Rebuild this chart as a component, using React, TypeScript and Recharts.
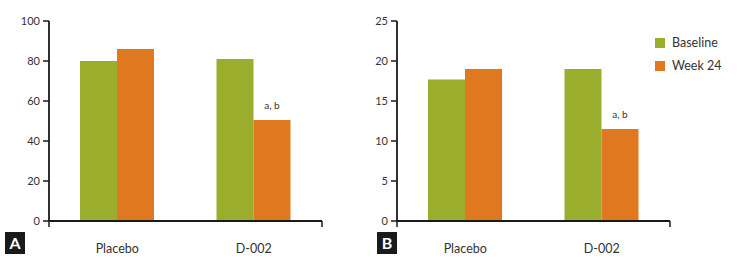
import React from 'react';
import { BarChart, Bar, XAxis, YAxis, LabelList } from 'recharts';

const categories = ['Placebo', 'D-002'];
const baselineA = [80, 81];
const week24A = [86, 50.5];
const baselineB = [17.7, 19.0];
const week24B = [19.0, 11.5];
const notes = ['', 'a, b'];
const yTicksA = [0, 20, 40, 60, 80, 100];
const yTicksB = [0, 5, 10, 15, 20, 25];
const seriesNames = ['Baseline', 'Week 24'];

const GREEN = '#9aad2c';
const ORANGE = '#e0781f';
const FONT = 'Lato, "Open Sans", sans-serif';

const dataA = categories.map((c, i) => ({ name: c, baseline: baselineA[i], week24: week24A[i], note: notes[i] }));
const dataB = categories.map((c, i) => ({ name: c, baseline: baselineB[i], week24: week24B[i], note: notes[i] }));

const tickStyle = { fontSize: 11, fill: '#333', fontFamily: FONT } as any;

const NoteLabel = (props: any) => {
  const { x, y, width, value } = props;
  if (!value) return null;
  return (
    <text x={x + width / 2} y={y - 11} textAnchor="middle" fontSize={10} fill="#333" fontFamily={FONT}>
      {value}
    </text>
  );
};

const LegendContent = () => (
  <div style={{ fontFamily: FONT, fontSize: 12.5, color: '#333' }}>
    {seriesNames.map((n, i) => (
      <div key={n} style={{ display: 'flex', alignItems: 'center', height: 23 }}>
        <div style={{ width: 10, height: 10, background: i === 0 ? GREEN : ORANGE, marginRight: 7 }} />
        <span>{n}</span>
      </div>
    ))}
  </div>
);

const Panel = (props: { data: any[]; ticks: number[]; max: number; left: number; width: number; yWidth: number; right: number; legend?: boolean }) => {
  const { data, ticks, max, left, width, yWidth, right, legend } = props;
  return (
    <div style={{ position: 'absolute', left, top: 0 }}>
      <BarChart width={width} height={262} data={data} margin={{ top: 21, right, bottom: 0, left: 0 }} barGap={0} barCategoryGap="22%">
        <XAxis
          xAxisId="a"
          type="number"
          domain={[0, 2]}
          ticks={[0, 1, 2]}
          height={1}
          axisLine={{ stroke: '#1a1a1a', strokeWidth: 1.8 }}
          tickLine={{ stroke: '#1a1a1a', strokeWidth: 1.5 }}
          tickSize={6}
          tickFormatter={() => ''}
          allowDataOverflow
        />
        <XAxis
          xAxisId="b"
          dataKey="name"
          height={40}
          axisLine={false}
          tickLine={false}
          tickSize={0}
          tickMargin={22}
          tick={{ fontSize: 12.5, fill: '#333', fontFamily: FONT }}
        />
        <YAxis
          width={yWidth}
          domain={[0, max]}
          ticks={ticks}
          axisLine={{ stroke: '#1a1a1a', strokeWidth: 1.8 }}
          tickLine={{ stroke: '#1a1a1a', strokeWidth: 1.5 }}
          tickSize={6}
          tickMargin={3}
          tick={tickStyle}
        />
        <Bar xAxisId="b" dataKey="baseline" fill={GREEN} barSize={37} isAnimationActive={false} />
        <Bar xAxisId="b" dataKey="week24" fill={ORANGE} barSize={37} isAnimationActive={false}>
          <LabelList dataKey="note" content={NoteLabel} />
        </Bar>
      </BarChart>
      {legend ? (
        <div style={{ position: 'absolute', left: 295, top: 31 }}>
          <LegendContent />
        </div>
      ) : null}
    </div>
  );
};

const Tag = ({ text, left }: { text: string; left: number }) => (
  <div
    style={{
      position: 'absolute',
      left,
      top: 232,
      width: 20,
      height: 22,
      background: '#1a1a1a',
      color: '#fff',
      fontFamily: FONT,
      fontWeight: 700,
      fontSize: 16,
      lineHeight: '22px',
      textAlign: 'center',
    }}
  >
    {text}
  </div>
);

export default function App() {
  return (
    <div style={{ position: 'absolute', left: 0, top: 0, width: 754, height: 262, background: '#fff', overflow: 'hidden' }}>
      <Panel data={dataA} ticks={yTicksA} max={100} left={0} width={377} yWidth={49} right={55} />
      <Panel data={dataB} ticks={yTicksB} max={25} left={360} width={394} yWidth={37} right={84} legend />
      <Tag text="A" left={5} />
      <Tag text="B" left={377} />
    </div>
  );
}
